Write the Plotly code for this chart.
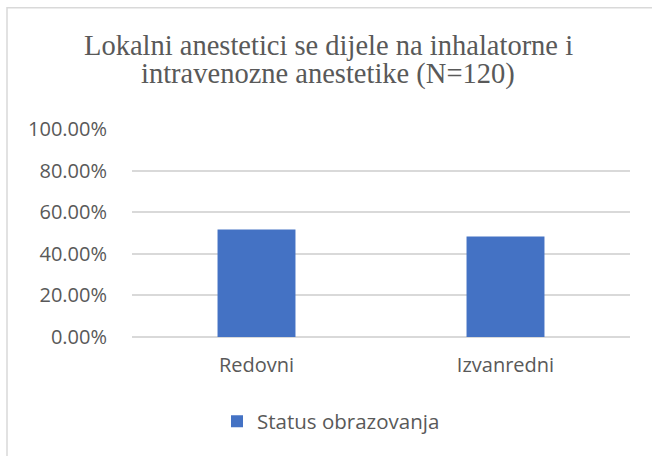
import plotly.graph_objects as go

categories = ["Redovni", "Izvanredni"]
values = [0.5167, 0.4833]
series_name = "Status obrazovanja"
title_lines = ["Lokalni anestetici se dijele na inhalatorne i",
               "intravenozne anestetike (N=120)"]
tick_vals = [0, 0.2, 0.4, 0.6, 0.8, 1.0]

fig = go.Figure()
fig.add_trace(go.Bar(
    x=categories, y=values, name=series_name,
    marker=dict(color="#4472C4", line=dict(width=0)),
    width=0.313,
    showlegend=True,
))

L, R = 132, 22
T, B = 129, 119.3
W, H = 652, 456
pw, ph = W - L - R, H - T - B

def px_x(px):
    return (px - L) / pw

def px_y(py):
    return (H - B - py) / ph

txt_color = "#595959"
sans = "Open Sans"

annotations = []
for line, cy in zip(title_lines, [46, 74.5]):
    annotations.append(dict(
        text=line, xref="paper", yref="paper",
        x=px_x(328), y=px_y(cy), xanchor="center", yanchor="middle",
        showarrow=False,
        font=dict(family="Liberation Serif", size=28.5, color=txt_color),
    ))

fig.update_layout(
    width=W, height=H,
    margin=dict(l=L, r=R, t=T, b=B, pad=0, autoexpand=False),
    paper_bgcolor="white", plot_bgcolor="white",
    font=dict(family=sans, size=20, color=txt_color),
    xaxis=dict(
        showgrid=False, showline=False, zeroline=False,
        ticks="", ticklabelstandoff=14, tickangle=0, automargin=False,
        tickfont=dict(family=sans, size=20, color=txt_color),
    ),
    yaxis=dict(
        range=[0, 1.0], tickvals=tick_vals, tickformat=".2%",
        showgrid=True, gridcolor="#D9D9D9", gridwidth=1.5,
        zeroline=True, zerolinecolor="#D9D9D9", zerolinewidth=1.5,
        showline=False, ticks="", ticklabelstandoff=24, automargin=False,
        tickfont=dict(family=sans, size=20, color=txt_color),
    ),
    legend=dict(
        orientation="h", x=331 / W, xref="container", xanchor="center",
        y=px_y(421), yanchor="middle",
        font=dict(family=sans, size=20.5, color=txt_color),
        itemwidth=30,
    ),
    annotations=annotations,
    shapes=[dict(
        type="rect", xref="paper", yref="paper",
        x0=px_x(7), x1=px_x(720), y0=px_y(520), y1=px_y(8),
        line=dict(color="#D9D9D9", width=1.5), fillcolor="rgba(0,0,0,0)",
        layer="below",
    )],
)

fig.write_html("out.html", config={"displayModeBar": False},
               post_script="document.body.style.margin='0';")
